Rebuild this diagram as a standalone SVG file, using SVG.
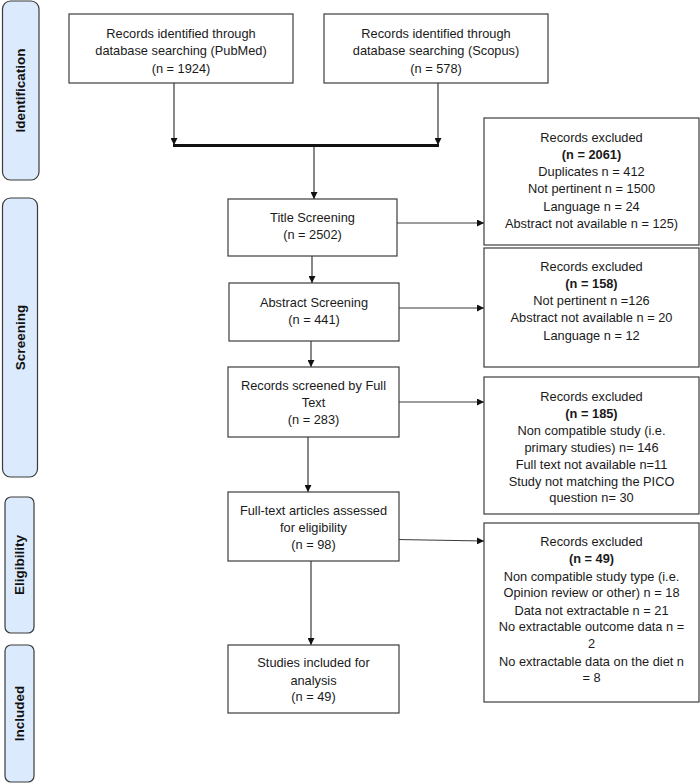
<svg xmlns="http://www.w3.org/2000/svg" width="700" height="784" viewBox="0 0 700 784">
<style>
  .phase { fill: #dbeafc; stroke: #3a3a3a; stroke-width: 1.2; }
  .ptxt { font-family: "Liberation Sans", Arial, sans-serif; font-weight: bold; font-size: 13.5px; fill: #111; text-anchor: middle; }
  .box { fill: #ffffff; stroke: #3c3c3c; stroke-width: 1.2; }
  .t { font-family: "Liberation Sans", Arial, sans-serif; font-size: 12.8px; fill: #1a1a1a; text-anchor: middle; }
  .b { font-weight: bold; }
  .ln { stroke: #3a3a3a; stroke-width: 1.2; fill: none; }
  .thick { stroke: #111; stroke-width: 3; fill: none; }
</style>
<defs>
  <marker id="ah" viewBox="0 0 10 10" refX="10" refY="5" markerWidth="7" markerHeight="7" markerUnits="userSpaceOnUse" orient="auto">
    <path d="M0,0 L10,5 L0,10 z" fill="#111"/>
  </marker>
</defs>

<rect width="700" height="784" fill="#ffffff"/>

<g id="phase-identification">
  <rect class="phase" x="2.5" y="1" width="36.5" height="179" rx="8"/>
  <text class="ptxt" transform="translate(25,90.5) rotate(-90)">Identification</text>
</g>
<g id="phase-screening">
  <rect class="phase" x="2.5" y="198" width="35" height="279" rx="8"/>
  <text class="ptxt" transform="translate(24.5,337.5) rotate(-90)">Screening</text>
</g>
<g id="phase-eligibility">
  <rect class="phase" x="5" y="497" width="29" height="136" rx="6"/>
  <text class="ptxt" transform="translate(24,565) rotate(-90)">Eligibility</text>
</g>
<g id="phase-included">
  <rect class="phase" x="5" y="645" width="29" height="137" rx="6"/>
  <text class="ptxt" transform="translate(24,713.5) rotate(-90)">Included</text>
</g>

<g id="connectors">
  <line class="ln" x1="174" y1="83" x2="174" y2="145" marker-end="url(#ah)"/>
  <line class="ln" x1="438" y1="83" x2="438" y2="145" marker-end="url(#ah)"/>
  <line class="thick" x1="173" y1="145.5" x2="439" y2="145.5"/>
  <line class="ln" x1="314" y1="147" x2="314" y2="199" marker-end="url(#ah)"/>
  <line class="ln" x1="397" y1="223" x2="484" y2="223" marker-end="url(#ah)"/>
  <line class="ln" x1="312" y1="256" x2="312" y2="283" marker-end="url(#ah)"/>
  <line class="ln" x1="399" y1="308" x2="484" y2="308" marker-end="url(#ah)"/>
  <line class="ln" x1="311" y1="341" x2="311" y2="367" marker-end="url(#ah)"/>
  <line class="ln" x1="399" y1="402" x2="484" y2="402" marker-end="url(#ah)"/>
  <line class="ln" x1="308" y1="437" x2="308" y2="492" marker-end="url(#ah)"/>
  <line class="ln" x1="397" y1="539.5" x2="484" y2="541" marker-end="url(#ah)"/>
  <line class="ln" x1="311" y1="561" x2="311" y2="645" marker-end="url(#ah)"/>
</g>

<g id="pubmed">
  <rect class="box" x="69" y="14" width="224" height="69"/>
  <text class="t" x="181" y="37.5">Records identified through</text>
  <text class="t" x="181" y="55">database searching (PubMed)</text>
  <text class="t" x="181" y="72.5">(n = 1924)</text>
</g>
<g id="scopus">
  <rect class="box" x="324" y="14" width="224" height="69"/>
  <text class="t" x="436" y="37.5">Records identified through</text>
  <text class="t" x="436" y="55">database searching (Scopus)</text>
  <text class="t" x="436" y="72.5">(n = 578)</text>
</g>

<g id="title-screening">
  <rect class="box" x="228" y="199" width="169" height="57"/>
  <text class="t" x="312.5" y="222">Title Screening</text>
  <text class="t" x="312.5" y="239">(n = 2502)</text>
</g>
<g id="abstract-screening">
  <rect class="box" x="229" y="283" width="170" height="58"/>
  <text class="t" x="314" y="307">Abstract Screening</text>
  <text class="t" x="314" y="324">(n = 441)</text>
</g>
<g id="full-text-screening">
  <rect class="box" x="228" y="367" width="171" height="70"/>
  <text class="t" x="313.5" y="390">Records screened by Full</text>
  <text class="t" x="313.5" y="407">Text</text>
  <text class="t" x="313.5" y="424">(n = 283)</text>
</g>
<g id="eligibility-assessed">
  <rect class="box" x="228" y="492" width="171" height="69"/>
  <text class="t" x="313.5" y="515">Full-text articles assessed</text>
  <text class="t" x="313.5" y="532">for eligibility</text>
  <text class="t" x="313.5" y="549">(n = 98)</text>
</g>
<g id="included">
  <rect class="box" x="228" y="645" width="171" height="68"/>
  <text class="t" x="313.5" y="667">Studies included for</text>
  <text class="t" x="313.5" y="685">analysis</text>
  <text class="t" x="313.5" y="701">(n = 49)</text>
</g>

<g id="excluded-1">
  <rect class="box" x="484" y="118" width="215" height="127"/>
  <text class="t" x="591.5" y="141.5">Records excluded</text>
  <text class="t b" x="591.5" y="158.5">(n = 2061)</text>
  <text class="t" x="591.5" y="175.5">Duplicates n = 412</text>
  <text class="t" x="591.5" y="192.5">Not pertinent n = 1500</text>
  <text class="t" x="591.5" y="210.5">Language n = 24</text>
  <text class="t" x="591.5" y="227.5">Abstract not available n = 125)</text>
</g>
<g id="excluded-2">
  <rect class="box" x="484" y="248" width="215" height="119"/>
  <text class="t" x="591.5" y="271">Records excluded</text>
  <text class="t b" x="591.5" y="288">(n = 158)</text>
  <text class="t" x="591.5" y="305">Not pertinent n =126</text>
  <text class="t" x="591.5" y="322">Abstract not available n = 20</text>
  <text class="t" x="591.5" y="340">Language n = 12</text>
</g>
<g id="excluded-3">
  <rect class="box" x="484" y="377" width="215" height="137"/>
  <text class="t" x="591.5" y="401">Records excluded</text>
  <text class="t b" x="591.5" y="418">(n = 185)</text>
  <text class="t" x="591.5" y="435">Non compatible study (i.e.</text>
  <text class="t" x="591.5" y="452">primary studies) n= 146</text>
  <text class="t" x="591.5" y="469">Full text not available n=11</text>
  <text class="t" x="591.5" y="486">Study not matching the PICO</text>
  <text class="t" x="591.5" y="502">question n= 30</text>
</g>
<g id="excluded-4">
  <rect class="box" x="484" y="523" width="215" height="179"/>
  <text class="t" x="591.5" y="546">Records excluded</text>
  <text class="t b" x="591.5" y="563">(n = 49)</text>
  <text class="t" x="591.5" y="581">Non compatible study type (i.e.</text>
  <text class="t" x="591.5" y="597">Opinion review or other) n = 18</text>
  <text class="t" x="591.5" y="615">Data not extractable n = 21</text>
  <text class="t" x="591.5" y="631">No extractable outcome data n =</text>
  <text class="t" x="591.5" y="648">2</text>
  <text class="t" x="591.5" y="666">No extractable data on the diet n</text>
  <text class="t" x="591.5" y="682">= 8</text>
</g>
</svg>
